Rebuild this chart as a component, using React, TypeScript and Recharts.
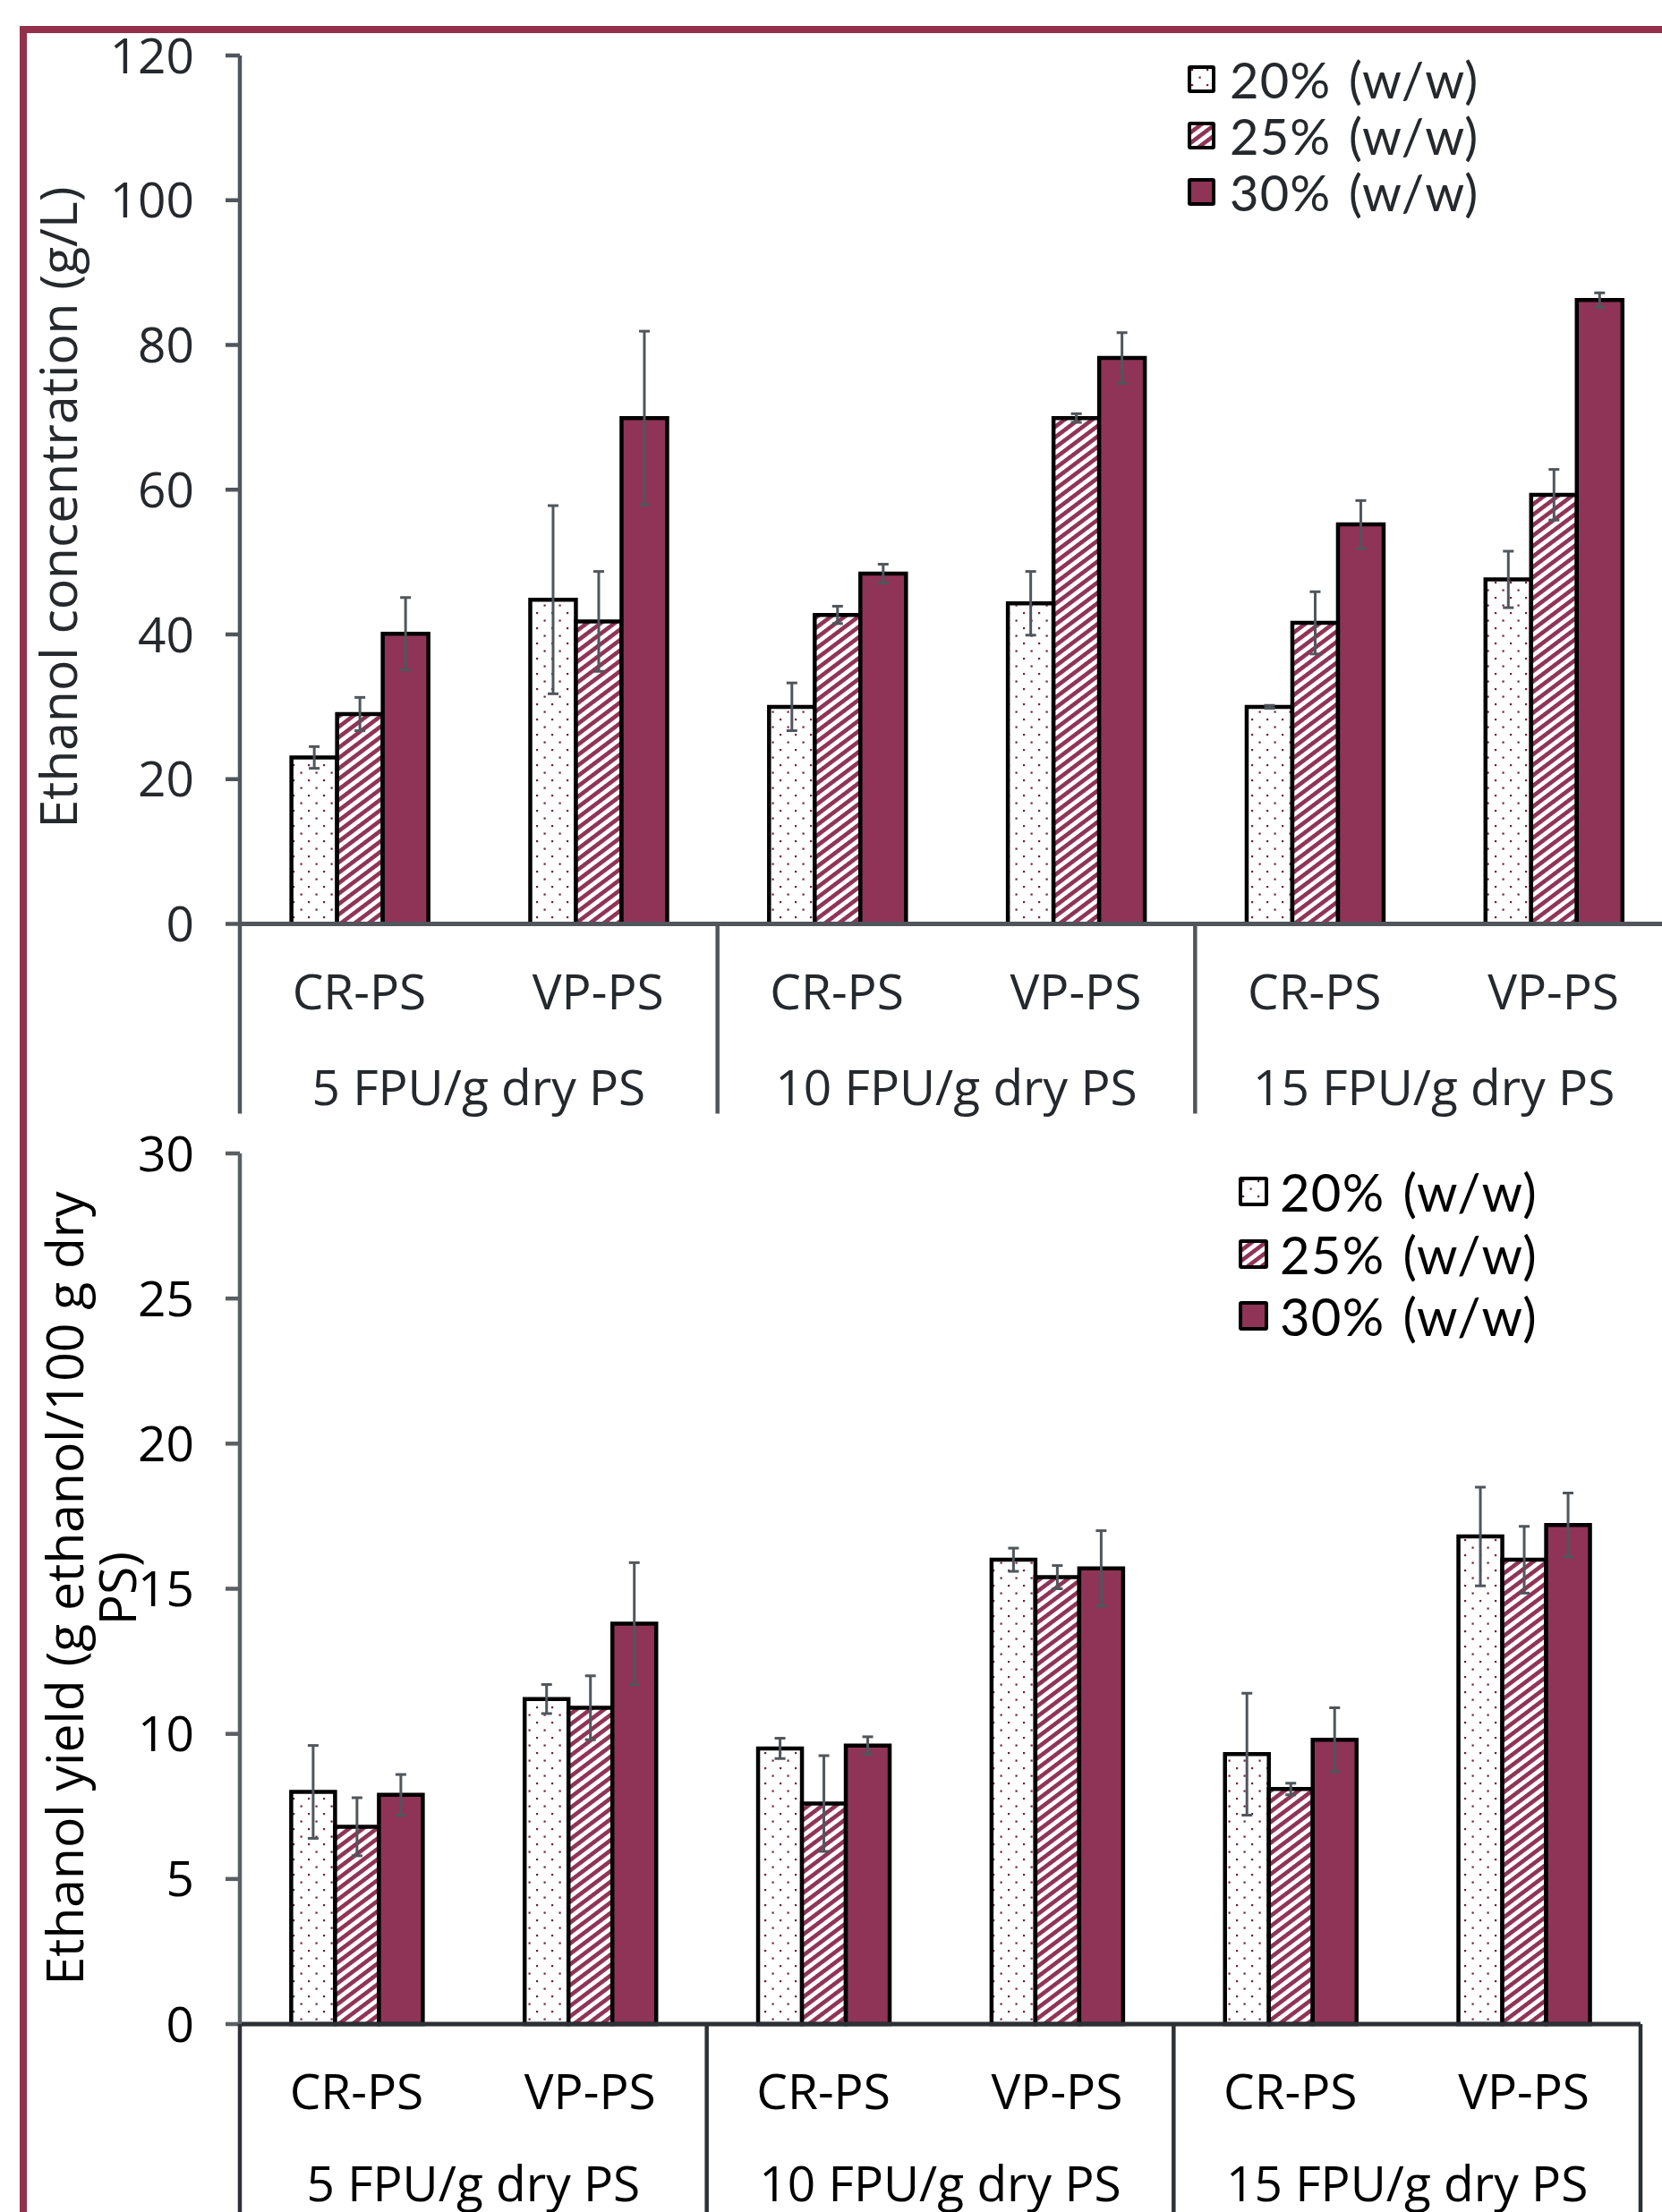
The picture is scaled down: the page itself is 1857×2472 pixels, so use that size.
import React from 'react';
import { BarChart, Bar, XAxis, YAxis, ErrorBar, Legend } from 'recharts';

// categories
const SUBSTRATES = ['CR-PS', 'VP-PS', 'CR-PS', 'VP-PS', 'CR-PS', 'VP-PS'];
const DOSES = ['5 FPU/g dry PS', '10 FPU/g dry PS', '15 FPU/g dry PS'];
const LOADINGS = ['20% (w/w)', '25% (w/w)', '30% (w/w)'];

// ethanol concentration (g/L) and std dev
const CONC_20 = [23.0, 44.8, 30.0, 44.3, 30.0, 47.6];
const CONC_20_SD = [1.5, 13.0, 3.3, 4.4, 0.2, 3.9];
const CONC_25 = [29.0, 41.8, 42.7, 69.9, 41.6, 59.3];
const CONC_25_SD = [2.3, 6.9, 1.2, 0.6, 4.3, 3.5];
const CONC_30 = [40.1, 69.9, 48.4, 78.2, 55.2, 86.2];
const CONC_30_SD = [5.0, 12.0, 1.3, 3.5, 3.3, 1.0];

// ethanol yield (g ethanol/100 g dry PS) and std dev
const YIELD_20 = [8.0, 11.2, 9.5, 16.0, 9.3, 16.8];
const YIELD_20_SD = [1.6, 0.5, 0.35, 0.4, 2.1, 1.7];
const YIELD_25 = [6.8, 10.9, 7.6, 15.4, 8.1, 16.0];
const YIELD_25_SD = [1.0, 1.1, 1.65, 0.4, 0.2, 1.15];
const YIELD_30 = [7.9, 13.8, 9.6, 15.7, 9.8, 17.2];
const YIELD_30_SD = [0.7, 2.1, 0.3, 1.3, 1.1, 1.1];

const CONC_TICKS = [0, 20, 40, 60, 80, 100, 120];
const YIELD_TICKS = [0, 5, 10, 15, 20, 25, 30];

const MAROON = '#8f3457';
const DOT = '#6e2141';
const FRAME = '#93304c';
const ERR = '#50565b';

const buildRows = (v20: number[], s20: number[], v25: number[], s25: number[], v30: number[], s30: number[]) =>
  SUBSTRATES.map((sub, i) => ({
    sub,
    l20: v20[i], e20: s20[i],
    l25: v25[i], e25: s25[i],
    l30: v30[i], e30: s30[i],
  }));

const concRows = buildRows(CONC_20, CONC_20_SD, CONC_25, CONC_25_SD, CONC_30, CONC_30_SD);
const yieldRows = buildRows(YIELD_20, YIELD_20_SD, YIELD_25, YIELD_25_SD, YIELD_30, YIELD_30_SD);

const Patterns = ({ id }: { id: string }) => (
  <defs>
    <pattern id={`${id}-dots`} patternUnits="userSpaceOnUse" width={17} height={17}>
      <rect width={17} height={17} fill="#fff" />
      <rect x={4} y={4} width={2.2} height={2.2} fill={DOT} />
      <rect x={12.5} y={12.5} width={2.2} height={2.2} fill={DOT} />
    </pattern>
    <pattern id={`${id}-stripes`} patternUnits="userSpaceOnUse" width={9.3} height={20} patternTransform="rotate(53)">
      <rect width={9.3} height={20} fill="#fff" />
      <rect width={4.6} height={20} fill={MAROON} />
    </pattern>
  </defs>
);

const fillFor = (key: string, id: string) =>
  key === 'l20' ? `url(#${id}-dots)` : key === 'l25' ? `url(#${id}-stripes)` : MAROON;

const CategoryTick = (props: any) => {
  const { x, y, payload, index, bw, subDy, doseDy, sepLen, color, sepColor } = props;
  return (
    <g>
      <text x={x} y={y + subDy} textAnchor="middle" dominantBaseline="central"
        fontFamily="Open Sans" fontSize={55} fill={color}>{payload.value}</text>
      {index % 2 === 0 && (
        <g>
          <line x1={x - bw / 2} x2={x - bw / 2} y1={y} y2={y + sepLen} stroke={sepColor} strokeWidth={4.5} />
          <text x={x + bw / 2} y={y + doseDy} textAnchor="middle" dominantBaseline="central"
            fontFamily="Open Sans" fontSize={55} fill={color}>{DOSES[index / 2]}</text>
        </g>
      )}
      {index === SUBSTRATES.length - 1 && (
        <line x1={x + bw / 2} x2={x + bw / 2} y1={y} y2={y + sepLen} stroke={sepColor} strokeWidth={4.5} />
      )}
    </g>
  );
};

const AxisTitle = ({ lines, xs, cy, color }: any) => (
  <g>
    {lines.map((line: string, i: number) => (
      <text key={i} transform={`translate(${xs[i]}, ${cy}) rotate(-90)`} textAnchor="middle"
        fontFamily="Open Sans" fontSize={57} fill={color}>{line}</text>
    ))}
  </g>
);

const LegendRows = ({ payload, id, font, rowH, box, gap, color }: any) => (
  <div>
    {(payload || []).map((entry: any) => (
      <div key={entry.value} style={{ display: 'flex', alignItems: 'center', height: rowH }}>
        <svg width={box} height={box} style={{ display: 'block' }}>
          <Patterns id={id} />
          <rect x={2} y={2} width={box - 4} height={box - 4} fill={fillFor(entry.dataKey, id)} stroke="#000" strokeWidth={4} rx={1} />
        </svg>
        <span style={{ marginLeft: gap, fontFamily: 'Lato', fontSize: font, color, lineHeight: `${rowH}px`,
          whiteSpace: 'nowrap', letterSpacing: 1.2, wordSpacing: 4 }}>
          {entry.value}
        </span>
      </div>
    ))}
  </div>
);

type PanelProps = {
  id: string;
  rows: any[];
  width: number;
  height: number;
  margin: { top: number; right: number; bottom: number; left: number };
  yAxisW: number;
  xAxisH: number;
  domain: [number, number];
  ticks: number[];
  title: string[];
  titleXs: number[];
  titleCy: number;
  textColor: string;
  axisColor: string;
  xLineColor: string;
  subDy: number;
  doseDy: number;
  sepLen: number;
  gapPct: string;
  legend: { left: number; top: number; font: number; rowH: number; box: number; gap: number };
};

const Panel = (p: PanelProps) => {
  const plotW = p.width - p.margin.left - p.margin.right - p.yAxisW;
  const bw = plotW / SUBSTRATES.length;
  return (
    <BarChart width={p.width} height={p.height} data={p.rows} margin={p.margin} barGap={0} barCategoryGap={p.gapPct}>
      <Patterns id={p.id} />
      <XAxis dataKey="sub" interval={0} height={p.xAxisH} tickLine={false} tickSize={0} tickMargin={0}
        axisLine={{ stroke: p.xLineColor, strokeWidth: 5 }}
        tick={<CategoryTick bw={bw} subDy={p.subDy} doseDy={p.doseDy} sepLen={p.sepLen} color={p.textColor} sepColor={p.xLineColor} />} />
      <YAxis domain={p.domain} ticks={p.ticks} interval={0} width={p.yAxisW} tickSize={16} tickMargin={35}
        axisLine={{ stroke: p.axisColor, strokeWidth: 4.5 }} tickLine={{ stroke: p.axisColor, strokeWidth: 4.5 }}
        tick={{ fontFamily: 'Open Sans', fontSize: 55, fill: p.textColor }}
        label={<AxisTitle lines={p.title} xs={p.titleXs} cy={p.titleCy} color={p.textColor} />} />
      {['l20', 'l25', 'l30'].map((key, i) => (
        <Bar key={key} dataKey={key} name={LOADINGS[i]} fill={fillFor(key, p.id)} stroke="#000" strokeWidth={4.5}
          isAnimationActive={false}>
          <ErrorBar dataKey={`e${key.slice(1)}`} width={6} stroke={ERR} strokeWidth={3} direction="y" />
        </Bar>
      ))}
      <Legend layout="vertical" align="center" verticalAlign="middle"
        wrapperStyle={{ left: p.legend.left, top: p.legend.top, width: 'auto' }}
        content={(lp: any) => (
          <LegendRows payload={lp.payload} id={`${p.id}-lg`} font={p.legend.font} rowH={p.legend.rowH}
            box={p.legend.box} gap={p.legend.gap} color={p.textColor} />
        )} />
    </BarChart>
  );
};

export default function App() {
  return (
    <div style={{ position: 'absolute', left: 0, top: 0, width: 1857, height: 2472, overflow: 'hidden', background: '#fff' }}>
      <div style={{ position: 'absolute', left: 22, top: 29, width: 1900, height: 2500, borderLeft: `8px solid ${FRAME}`, borderTop: `8px solid ${FRAME}` }} />
      <div style={{ position: 'absolute', left: 0, top: 0 }}>
        <Panel id="conc" rows={concRows} width={1880} height={1262}
          margin={{ top: 62, right: 11, bottom: 0, left: 0 }} yAxisW={268} xAxisH={229.5}
          domain={[0, 120]} ticks={CONC_TICKS} title={['Ethanol concentration (g/L)']} titleXs={[86]} titleCy={567}
          textColor="#25292d" axisColor="#50565b" xLineColor="#50565b"
          subDy={74} doseDy={181} sepLen={212} gapPct="21.6%"
          legend={{ left: 1327, top: 57, font: 56, rowH: 63, box: 31, gap: 16 }} />
      </div>
      <div style={{ position: 'absolute', left: 0, top: 1240 }}>
        <Panel id="yield" rows={yieldRows} width={1857} height={1232}
          margin={{ top: 49, right: 24, bottom: 0, left: 0 }} yAxisW={268} xAxisH={210}
          domain={[0, 30]} ticks={YIELD_TICKS} title={['Ethanol yield (g ethanol/100 g dry', 'PS)']} titleXs={[93, 152]} titleCy={535}
          textColor="#000" axisColor="#5a5f63" xLineColor="#2d3135"
          subDy={73} doseDy={176} sepLen={215} gapPct="22%"
          legend={{ left: 1384, top: 57, font: 58, rowH: 69.5, box: 33, gap: 13 }} />
      </div>
    </div>
  );
}
